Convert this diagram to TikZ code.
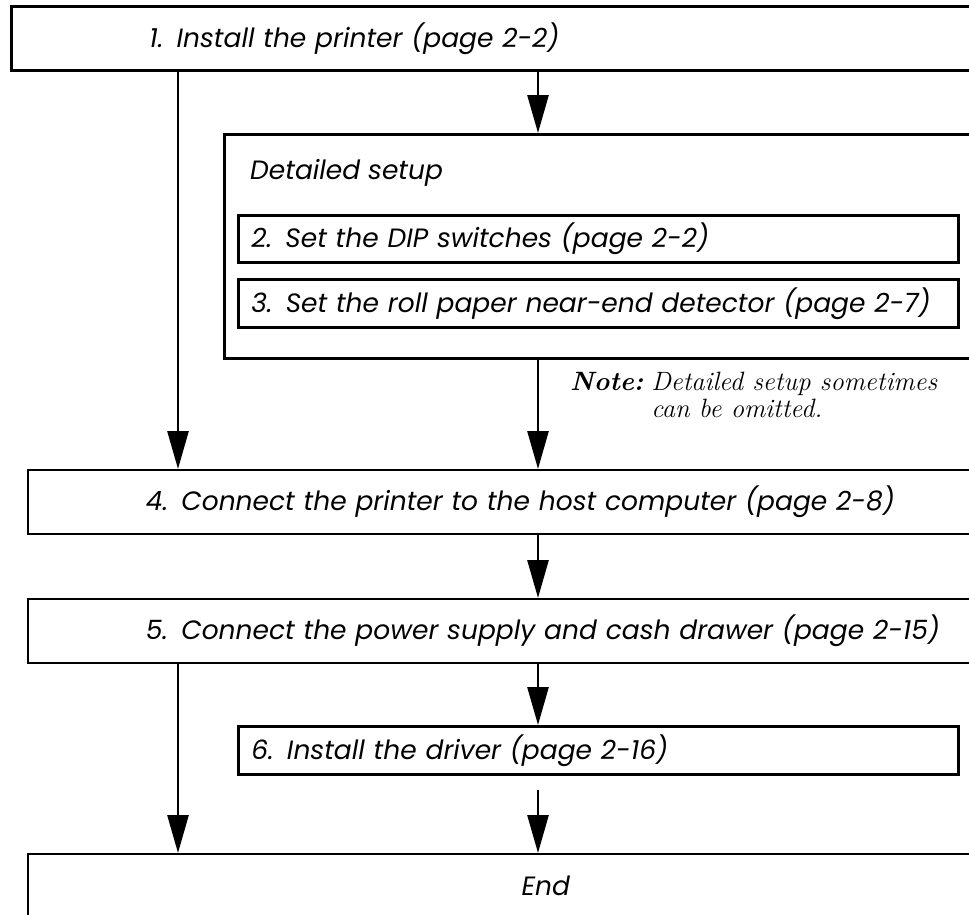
\documentclass[tikz,border=0pt]{standalone}
\usepackage{fontspec}
\usetikzlibrary{arrows.meta}
\newfontfamily\stagefont{Poppins}
\newcommand\stagetext{\stagefont\itshape\fontsize{26.5}{30}\selectfont}
\newcommand\notetext{\itshape\fontsize{26.5}{27}\selectfont}
\tikzstyle{stage}=[rectangle,draw=black,line width=1.7pt,anchor=north west,minimum height=64pt,inner xsep=118pt,inner ysep=0pt,text width=800pt,align=left,font=\stagetext]
\tikzstyle{substage}=[rectangle,draw=black,line width=2.7pt,anchor=north west,minimum height=48pt,inner xsep=13pt,inner ysep=0pt,text width=694pt,align=left,font=\stagetext]
\tikzstyle{group}=[rectangle,draw=black,line width=2.7pt,anchor=north west,minimum width=800pt,minimum height=224pt]
\tikzstyle{flow}=[-{Triangle[length=38pt,width=21pt]},line width=2.7pt]

\begin{document}
\begin{tikzpicture}[x=1pt,y=-1pt]
                    \useasboundingbox (0,0) rectangle (969,914);
                    \coordinate (lcol) at (178,0);
                    \coordinate (mcol) at (538,0);

                    \node (install) at (10,5) [stage,line width=2.7pt,inner xsep=138pt] {1. Install the printer (page 2-2)};
                    \node (detail) at (223,133) [group] {};
                    \node (title) at (250,173) [anchor=west,inner sep=0pt,font=\stagetext] {Detailed setup};
                    \node (dip) at (237,214) [substage,minimum height=47pt] {2. Set the DIP switches (page 2-2)};
                    \node (nearend) at (237,278) [substage] {3. Set the roll paper near-end detector (page 2-7)};
                    \node (note) at (570,405) [anchor=base west,inner sep=0pt,font=\notetext] {\begin{tabular}{@{}l@{\hspace{0.3em}}l@{}}\textbf{Note:} & Detailed setup sometimes\\ & can be omitted.\end{tabular}};
                    \node (connect) at (27,469) [stage] {4. Connect the printer to the host computer (page 2-8)};
                    \node (power) at (27,598) [stage] {5. Connect the power supply and cash drawer (page 2-15)};
                    \node (driver) at (237,725) [substage] {6. Install the driver (page 2-16)};
                    \node (finish) at (27,853) [stage,align=center] {End};

                    \draw [flow] (install.south -| lcol) -- (connect.north -| lcol);
                    \draw [flow] (install.south -| mcol) -- (detail.north -| mcol);
                    \draw [flow] (detail.south -| mcol) -- (connect.north -| mcol);
                    \draw [flow] (connect.south -| mcol) -- (power.north -| mcol);
                    \draw [flow] (power.south -| lcol) -- (finish.north -| lcol);
                    \draw [flow] (power.south -| mcol) -- (driver.north -| mcol);
                    \draw [flow,shorten <=14pt] (driver.south -| mcol) -- (finish.north -| mcol);
                \end{tikzpicture}
\end{document}
